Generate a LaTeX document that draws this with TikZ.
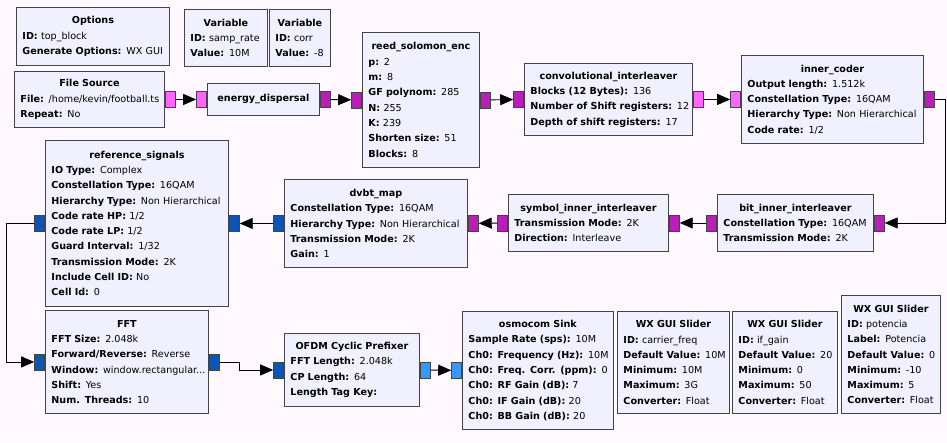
\documentclass[tikz,border=0pt]{standalone}
\usepackage{fontspec}
\setmainfont{DejaVu Sans}
\usetikzlibrary{arrows.meta, positioning}
\definecolor{canvasbg}{HTML}{FFF9FF}
\definecolor{blockfill}{HTML}{F0F0FF}
\definecolor{blockedge}{HTML}{444444}
\definecolor{byteport}{HTML}{FF66FF}
\definecolor{bytevport}{HTML}{B91EB9}
\definecolor{cplxport}{HTML}{3399FF}
\definecolor{cplxvport}{HTML}{0A55B5}
\newcommand{\blkname}[1]{\makebox[\linewidth][c]{\textbf{#1}}}
\newcommand{\prm}[2]{\mbox{\textbf{#1:} #2}}

\begin{document}
\begin{tikzpicture}[x=1pt, y=-1pt,
	block/.style 2 args={rectangle, draw=blockedge, fill=blockfill, line width=0.9pt,
		anchor=north west, inner xsep=6pt, inner ysep=0pt, align=left,
		minimum width=#1pt, text width=#1pt-12pt, minimum height=#2pt,
		font=\fontsize{9.6}{15.3}\selectfont},
	port/.style={rectangle, draw=blockedge, line width=0.8pt, inner sep=0pt,
		minimum width=10pt, minimum height=16pt},
	bport/.style={port, fill=byteport},
	bvport/.style={port, fill=bytevport},
	cport/.style={port, fill=cplxport},
	cvport/.style={port, fill=cplxvport},
	wire/.style={draw=black, line width=0.9pt, -{Triangle[length=13pt, width=11pt]}}
	]
	
	\fill[canvasbg] (0,0) rectangle (947,442);
	\useasboundingbox (0,0) rectangle (947,442);
	
	% Settings and variables
	\node[block={153}{58}] (opts) at (16,7) {\blkname{Options} \\ \prm{ID}{top\_block} \\ \prm{Generate Options}{WX GUI}};
	\node[block={83}{57}] (sampvar) at (184,9) {\blkname{Variable} \\ \prm{ID}{samp\_rate} \\ \prm{Value}{10M}};
	\node[block={61}{57}] (corrvar) at (269,9) {\blkname{Variable} \\ \prm{ID}{corr} \\ \prm{Value}{-8}};
	
	% Row 1: source and outer coding
	\node[block={150}{56}] (fsrc) at (14,71) {\blkname{File Source} \\ \prm{File}{/home/kevin/football.ts} \\ \prm{Repeat}{No}};
	\node[block={112}{32}] (edisp) at (207,83) {\blkname{energy\_dispersal}};
	\node[block={117}{135}] (rsenc) at (362,32) {\blkname{reed\_solomon\_enc} \\ \prm{p}{2} \\ \prm{m}{8} \\ \prm{GF polynom}{285} \\ \prm{N}{255} \\ \prm{K}{239} \\ \prm{Shorten size}{51} \\ \prm{Blocks}{8}};
	\node[block={168}{72}] (cintl) at (524,63) {\blkname{convolutional\_interleaver} \\ \prm{Blocks (12 Bytes)}{136} \\ \prm{Number of Shift registers}{12} \\ \prm{Depth of shift registers}{17}};
	\node[block={182}{88}] (icoder) at (741,55) {\blkname{inner\_coder} \\ \prm{Output length}{1.512k} \\ \prm{Constellation Type}{16QAM} \\ \prm{Hierarchy Type}{Non Hierarchical} \\ \prm{Code rate}{1/2}};
	
	% Row 2: interleaving and mapping (right to left)
	\node[block={156}{57}] (bintl) at (717,194) {\blkname{bit\_inner\_interleaver} \\ \prm{Constellation Type}{16QAM} \\ \prm{Transmission Mode}{2K}};
	\node[block={160}{57}] (sintl) at (508,194) {\blkname{symbol\_inner\_interleaver} \\ \prm{Transmission Mode}{2K} \\ \prm{Direction}{Interleave}};
	\node[block={183}{88}] (dmap) at (284,179) {\blkname{dvbt\_map} \\ \prm{Constellation Type}{16QAM} \\ \prm{Hierarchy Type}{Non Hierarchical} \\ \prm{Transmission Mode}{2K} \\ \prm{Gain}{1}};
	\node[block={183}{166}] (refsig) at (45,140) {\blkname{reference\_signals} \\ \prm{IO Type}{Complex} \\ \prm{Constellation Type}{16QAM} \\ \prm{Hierarchy Type}{Non Hierarchical} \\ \prm{Code rate HP}{1/2} \\ \prm{Code rate LP}{1/2} \\ \prm{Guard Interval}{1/32} \\ \prm{Transmission Mode}{2K} \\ \prm{Include Cell ID}{No} \\ \prm{Cell Id}{0}};
	
	% Row 3: OFDM and radio sink
	\node[block={163}{103}] (fft) at (45,310) {\blkname{FFT} \\ \prm{FFT Size}{2.048k} \\ \prm{Forward/Reverse}{Reverse} \\ \prm{Window}{window.rectangular...} \\ \prm{Shift}{Yes} \\ \prm{Num. Threads}{10}};
	\node[block={135}{73}] (cpref) at (284,333) {\blkname{OFDM Cyclic Prefixer} \\ \prm{FFT Length}{2.048k} \\ \prm{CP Length}{64} \\ \textbf{Length Tag Key:}};
	\node[block={151}{118}] (osink) at (462,311) {\blkname{osmocom Sink} \\ \prm{Sample Rate (sps)}{10M} \\ \prm{Ch0: Frequency (Hz)}{10M} \\ \prm{Ch0: Freq. Corr. (ppm)}{0} \\ \prm{Ch0: RF Gain (dB)}{7} \\ \prm{Ch0: IF Gain (dB)}{20} \\ \prm{Ch0: BB Gain (dB)}{20}};
	
	% GUI sliders
	\node[block={112}{102}] (sldfreq) at (617,311) {\blkname{WX GUI Slider} \\ \prm{ID}{carrier\_freq} \\ \prm{Default Value}{10M} \\ \prm{Minimum}{10M} \\ \prm{Maximum}{3G} \\ \prm{Converter}{Float}};
	\node[block={105}{102}] (sldgain) at (732,311) {\blkname{WX GUI Slider} \\ \prm{ID}{if\_gain} \\ \prm{Default Value}{20} \\ \prm{Minimum}{0} \\ \prm{Maximum}{50} \\ \prm{Converter}{Float}};
	\node[block={99}{118}] (sldpot) at (841,295) {\blkname{WX GUI Slider} \\ \prm{ID}{potencia} \\ \prm{Label}{Potencia} \\ \prm{Default Value}{0} \\ \prm{Minimum}{-10} \\ \prm{Maximum}{5} \\ \prm{Converter}{Float}};
	
	% Ports
	\node[bport, right=0pt of fsrc] (fsrc-out) {};
	\node[bport, left=0pt of edisp] (edisp-in) {};
	\node[bvport, right=0pt of edisp] (edisp-out) {};
	\node[bvport, left=0pt of rsenc] (rsenc-in) {};
	\node[bvport, right=0pt of rsenc] (rsenc-out) {};
	\node[bvport, left=0pt of cintl] (cintl-in) {};
	\node[bport, right=0pt of cintl] (cintl-out) {};
	\node[bport, left=0pt of icoder] (icoder-in) {};
	\node[bvport, right=0pt of icoder] (icoder-out) {};
	\node[bvport, right=0pt of bintl] (bintl-in) {};
	\node[bvport, left=0pt of bintl] (bintl-out) {};
	\node[bvport, right=0pt of sintl] (sintl-in) {};
	\node[bvport, left=0pt of sintl] (sintl-out) {};
	\node[bvport, right=0pt of dmap] (dmap-in) {};
	\node[cvport, left=0pt of dmap] (dmap-out) {};
	\node[cvport, right=0pt of refsig] (refsig-in) {};
	\node[cvport, left=0pt of refsig] (refsig-out) {};
	\node[cvport, left=0pt of fft] (fft-in) {};
	\node[cvport, right=0pt of fft] (fft-out) {};
	\node[cvport, left=0pt of cpref] (cpref-in) {};
	\node[cport, right=0pt of cpref] (cpref-out) {};
	\node[cport, left=0pt of osink] (osink-in) {};
	
	% Connections
	\draw[wire] (fsrc-out) -- (edisp-in);
	\draw[wire] (edisp-out) -- (rsenc-in);
	\draw[wire] (rsenc-out) -- (cintl-in);
	\draw[wire] (cintl-out) -- (icoder-in);
	\draw[wire] (icoder-out.east) -- ++(11,0) |- (bintl-in.east);
	\draw[wire] (bintl-out) -- (sintl-in);
	\draw[wire] (sintl-out) -- (dmap-in);
	\draw[wire] (dmap-out) -- (refsig-in);
	\draw[wire] (refsig-out.west) -- ++(-28,0) |- (fft-in.west);
	\draw[wire] (fft-out.east) -- ++(20,0) |- (cpref-in.west);
	\draw[wire] (cpref-out) -- (osink-in);
	
\end{tikzpicture}
\end{document}
